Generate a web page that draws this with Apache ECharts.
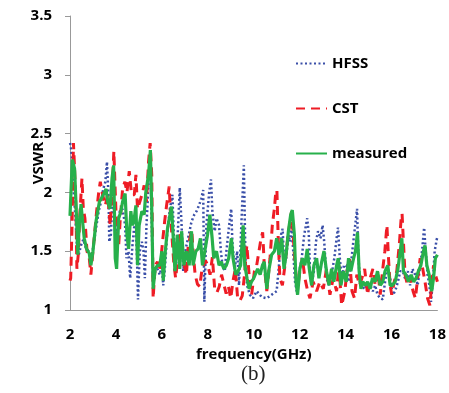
<!DOCTYPE html>
<html>
<head>
<meta charset="utf-8">
<script src="https://cdn.jsdelivr.net/npm/echarts@6/dist/echarts.min.js"></script>
<style>
  html, body { margin: 0; padding: 0; background: #fff; }
  #chart { width: 449px; height: 393px; }
</style>
</head>
<body>
<div id="chart"></div>
<script>
// values (frequency in GHz, VSWR)
const hfssFreq = [2.0, 2.03, 2.09, 2.16, 2.23, 2.29, 2.38, 2.48, 2.58, 2.7, 2.81, 2.91, 3.0, 3.13, 3.25, 3.35, 3.45, 3.54, 3.61, 3.68, 3.71, 3.78, 3.86, 3.93, 4.0, 4.07, 4.17, 4.29, 4.4, 4.46, 4.55, 4.62, 4.72, 4.83, 4.91, 4.96, 5.04, 5.13, 5.2, 5.26, 5.33, 5.42, 5.49, 5.56, 5.62, 5.71, 5.81, 5.91, 6.0, 6.06, 6.13, 6.23, 6.35, 6.46, 6.52, 6.61, 6.71, 6.78, 6.86, 6.93, 7.04, 7.14, 7.29, 7.41, 7.51, 7.62, 7.72, 7.8, 7.85, 7.94, 8.06, 8.14, 8.2, 8.3, 8.38, 8.49, 8.57, 8.64, 8.74, 8.81, 8.93, 9.02, 9.07, 9.17, 9.28, 9.36, 9.46, 9.57, 9.64, 9.71, 9.83, 9.97, 10.13, 10.35, 10.57, 10.78, 11.0, 11.1, 11.19, 11.26, 11.33, 11.41, 11.51, 11.58, 11.65, 11.72, 11.8, 11.9, 11.99, 12.09, 12.2, 12.33, 12.4, 12.45, 12.52, 12.62, 12.71, 12.8, 12.91, 13.0, 13.07, 13.17, 13.28, 13.39, 13.51, 13.61, 13.67, 13.75, 13.83, 13.93, 14.03, 14.13, 14.23, 14.32, 14.42, 14.5, 14.55, 14.62, 14.75, 14.86, 14.96, 15.07, 15.19, 15.29, 15.39, 15.51, 15.62, 15.72, 15.83, 15.94, 16.06, 16.16, 16.28, 16.38, 16.49, 16.59, 16.71, 16.81, 16.91, 17.03, 17.14, 17.25, 17.33, 17.42, 17.49, 17.57, 17.65, 17.72, 17.8, 17.88, 17.97, 18.0]
const hfssVswr = [2.42, 2.4, 2.29, 2.0, 1.81, 1.58, 1.47, 1.55, 1.6, 1.52, 1.5, 1.44, 1.52, 1.69, 1.84, 1.92, 2.03, 2.09, 2.26, 1.95, 1.58, 1.64, 2.0, 1.78, 1.64, 1.72, 1.84, 1.86, 1.72, 1.44, 1.5, 1.27, 1.55, 1.78, 1.5, 1.09, 1.5, 1.58, 1.5, 1.27, 1.72, 2.06, 2.29, 1.72, 1.21, 1.33, 1.35, 1.3, 1.38, 1.21, 1.35, 1.64, 1.86, 1.98, 1.64, 1.33, 1.72, 2.04, 1.72, 1.33, 1.52, 1.61, 1.75, 1.81, 1.84, 1.89, 1.95, 2.02, 1.07, 1.72, 2.0, 2.11, 1.84, 1.67, 1.78, 1.72, 1.5, 1.38, 1.33, 1.5, 1.72, 1.86, 1.58, 1.35, 1.5, 1.21, 1.72, 2.23, 1.44, 1.21, 1.13, 1.1, 1.16, 1.11, 1.1, 1.13, 1.16, 1.38, 1.64, 1.69, 1.38, 1.44, 1.64, 1.58, 1.72, 1.5, 1.24, 1.13, 1.33, 1.44, 1.64, 1.78, 1.64, 1.33, 1.21, 1.33, 1.58, 1.67, 1.61, 1.72, 1.58, 1.27, 1.21, 1.3, 1.44, 1.61, 1.7, 1.44, 1.27, 1.38, 1.38, 1.24, 1.38, 1.55, 1.72, 1.86, 1.5, 1.24, 1.18, 1.21, 1.16, 1.21, 1.16, 1.21, 1.13, 1.1, 1.09, 1.24, 1.38, 1.27, 1.13, 1.16, 1.24, 1.33, 1.33, 1.27, 1.33, 1.21, 1.35, 1.3, 1.21, 1.38, 1.5, 1.7, 1.5, 1.3, 1.21, 1.07, 1.24, 1.5, 1.6, 1.62]

const cstFreq = [2.0, 2.03, 2.09, 2.15, 2.2, 2.26, 2.3, 2.36, 2.43, 2.52, 2.58, 2.65, 2.74, 2.84, 2.91, 3.0, 3.16, 3.25, 3.32, 3.42, 3.54, 3.64, 3.75, 3.86, 3.91, 3.97, 4.04, 4.12, 4.19, 4.29, 4.39, 4.48, 4.58, 4.68, 4.8, 4.87, 4.94, 5.04, 5.16, 5.23, 5.33, 5.42, 5.49, 5.56, 5.62, 5.71, 5.81, 5.91, 6.03, 6.12, 6.2, 6.32, 6.38, 6.45, 6.52, 6.6, 6.7, 6.81, 6.9, 6.98, 7.07, 7.15, 7.3, 7.38, 7.45, 7.55, 7.65, 7.75, 7.9, 8.0, 8.1, 8.2, 8.3, 8.4, 8.5, 8.6, 8.7, 8.8, 8.9, 9.0, 9.1, 9.2, 9.3, 9.4, 9.5, 9.6, 9.7, 9.8, 9.91, 10.03, 10.13, 10.23, 10.32, 10.39, 10.46, 10.57, 10.71, 10.81, 10.9, 10.96, 11.01, 11.07, 11.14, 11.25, 11.36, 11.48, 11.58, 11.65, 11.72, 11.8, 11.91, 12.01, 12.12, 12.23, 12.35, 12.45, 12.59, 12.74, 12.88, 13.03, 13.17, 13.32, 13.46, 13.61, 13.71, 13.83, 13.97, 14.06, 14.17, 14.28, 14.39, 14.49, 14.61, 14.71, 14.83, 14.96, 15.07, 15.19, 15.29, 15.41, 15.51, 15.62, 15.71, 15.8, 15.87, 15.94, 16.01, 16.12, 16.23, 16.35, 16.42, 16.46, 16.52, 16.59, 16.7, 16.81, 16.94, 17.04, 17.14, 17.25, 17.36, 17.46, 17.57, 17.67, 17.75, 17.83, 17.91, 18.0]
const cstVswr = [1.25, 1.27, 1.72, 2.42, 2.2, 1.86, 1.35, 1.47, 1.81, 2.12, 1.86, 1.78, 1.5, 1.44, 1.3, 1.5, 1.84, 2.0, 2.09, 1.98, 1.89, 1.98, 1.72, 2.12, 2.35, 2.0, 1.64, 1.55, 1.78, 2.03, 2.09, 2.0, 2.18, 1.98, 1.98, 2.15, 1.86, 1.92, 2.0, 2.06, 1.92, 2.26, 2.42, 2.15, 1.1, 1.38, 1.41, 1.33, 1.58, 1.75, 1.88, 2.05, 1.8, 1.6, 1.4, 1.27, 1.45, 1.67, 1.5, 1.38, 1.3, 1.55, 1.68, 1.45, 1.3, 1.22, 1.2, 1.35, 1.42, 1.38, 1.3, 1.45, 1.18, 1.15, 1.2, 1.3, 1.22, 1.14, 1.2, 1.1, 1.25, 1.35, 1.1, 1.08, 1.12, 1.3, 1.55, 1.3, 1.13, 1.33, 1.38, 1.5, 1.61, 1.66, 1.38, 1.16, 1.44, 1.72, 1.86, 2.0, 2.02, 1.58, 1.27, 1.21, 1.38, 1.61, 1.75, 1.84, 1.64, 1.38, 1.18, 1.33, 1.44, 1.27, 1.16, 1.1, 1.24, 1.16, 1.24, 1.18, 1.35, 1.13, 1.27, 1.16, 1.38, 1.04, 1.16, 1.33, 1.44, 1.16, 1.1, 1.3, 1.21, 1.27, 1.35, 1.13, 1.27, 1.35, 1.21, 1.33, 1.13, 1.35, 1.5, 1.72, 1.44, 1.21, 1.13, 1.24, 1.33, 1.58, 1.78, 1.82, 1.58, 1.3, 1.21, 1.27, 1.16, 1.1, 1.27, 1.44, 1.35, 1.24, 1.1, 1.04, 1.21, 1.38, 1.3, 1.24]

const measFreq = [2.0, 2.1, 2.2, 2.27, 2.34, 2.4, 2.48, 2.55, 2.62, 2.72, 2.84, 2.91, 3.0, 3.13, 3.28, 3.4, 3.5, 3.57, 3.64, 3.74, 3.83, 3.9, 3.97, 4.03, 4.12, 4.22, 4.29, 4.4, 4.48, 4.55, 4.65, 4.72, 4.8, 4.87, 4.94, 5.01, 5.13, 5.23, 5.3, 5.42, 5.5, 5.56, 5.62, 5.71, 5.81, 5.91, 6.0, 6.06, 6.15, 6.25, 6.42, 6.5, 6.57, 6.67, 6.78, 6.86, 6.96, 7.07, 7.19, 7.29, 7.36, 7.48, 7.58, 7.68, 7.77, 7.87, 7.99, 8.09, 8.19, 8.26, 8.38, 8.49, 8.59, 8.7, 8.81, 8.91, 9.03, 9.1, 9.22, 9.32, 9.43, 9.54, 9.61, 9.71, 9.8, 9.9, 10.0, 10.06, 10.17, 10.28, 10.38, 10.46, 10.57, 10.67, 10.78, 10.9, 11.0, 11.1, 11.22, 11.32, 11.41, 11.51, 11.61, 11.68, 11.77, 11.84, 11.91, 12.01, 12.12, 12.23, 12.33, 12.42, 12.52, 12.62, 12.74, 12.84, 12.96, 13.06, 13.17, 13.28, 13.39, 13.49, 13.61, 13.68, 13.8, 13.9, 14.03, 14.13, 14.23, 14.35, 14.43, 14.52, 14.59, 14.67, 14.75, 14.86, 14.96, 15.07, 15.17, 15.29, 15.39, 15.51, 15.62, 15.72, 15.84, 15.94, 16.04, 16.16, 16.28, 16.38, 16.45, 16.52, 16.62, 16.74, 16.86, 16.96, 17.07, 17.17, 17.28, 17.39, 17.46, 17.54, 17.64, 17.75, 17.83, 17.91, 18.0]
const measVswr = [1.8, 2.28, 2.2, 1.86, 1.47, 1.72, 1.9, 1.75, 1.61, 1.52, 1.48, 1.38, 1.5, 1.75, 1.92, 1.96, 2.0, 2.03, 1.92, 1.86, 2.12, 2.23, 1.44, 1.35, 1.78, 1.84, 1.92, 1.99, 1.64, 1.52, 1.84, 1.72, 1.78, 1.89, 1.38, 1.72, 1.84, 1.81, 2.0, 2.15, 2.36, 1.86, 1.18, 1.35, 1.38, 1.38, 1.5, 1.25, 1.5, 1.7, 1.88, 1.6, 1.33, 1.64, 1.35, 1.67, 1.38, 1.5, 1.38, 1.67, 1.38, 1.5, 1.52, 1.61, 1.38, 1.5, 1.64, 1.81, 1.61, 1.44, 1.5, 1.38, 1.41, 1.35, 1.38, 1.44, 1.61, 1.44, 1.3, 1.33, 1.38, 1.72, 1.38, 1.27, 1.18, 1.24, 1.27, 1.27, 1.35, 1.3, 1.38, 1.41, 1.18, 1.35, 1.47, 1.5, 1.61, 1.47, 1.61, 1.35, 1.47, 1.67, 1.81, 1.85, 1.64, 1.24, 1.13, 1.35, 1.44, 1.38, 1.52, 1.35, 1.21, 1.38, 1.44, 1.27, 1.41, 1.5, 1.33, 1.21, 1.35, 1.24, 1.38, 1.44, 1.21, 1.33, 1.24, 1.44, 1.33, 1.44, 1.5, 1.66, 1.33, 1.18, 1.24, 1.21, 1.24, 1.18, 1.27, 1.24, 1.33, 1.21, 1.24, 1.33, 1.38, 1.21, 1.21, 1.24, 1.35, 1.5, 1.61, 1.33, 1.3, 1.24, 1.3, 1.24, 1.27, 1.33, 1.38, 1.5, 1.55, 1.38, 1.3, 1.16, 1.27, 1.44, 1.47]

const labelFont = '"Open Sans", Lato, sans-serif'

function zip(xs, ys) {
  return xs.map((x, i) => [x, ys[i]])
}

const chart = echarts.init(document.getElementById('chart'), null, { renderer: 'canvas' })

const boldText = { fontFamily: labelFont, fontWeight: 'bold', fontSize: 15, color: '#000' }

chart.setOption({
  animation: false,
  backgroundColor: '#fff',
  grid: { left: 70, right: 11, top: 16, bottom: 83 },
  legend: {
    orient: 'vertical',
    left: 290,
    top: 51,
    itemWidth: 31,
    itemHeight: 14,
    itemGap: 30,
    itemStyle: { opacity: 0 },
    textStyle: boldText,
    data: ['HFSS', 'CST', 'measured']
  },
  xAxis: {
    type: 'value',
    min: 2,
    max: 18,
    interval: 2,
    name: 'frequency(GHz)',
    nameLocation: 'middle',
    nameGap: 36,
    nameTextStyle: boldText,
    axisLine: { lineStyle: { color: '#999', width: 1 } },
    axisTick: { show: false },
    axisLabel: Object.assign({ margin: 17 }, boldText),
    splitLine: { show: false }
  },
  yAxis: {
    type: 'value',
    min: 1,
    max: 3.5,
    interval: 0.5,
    name: 'VSWR',
    nameLocation: 'middle',
    nameRotate: 90,
    nameGap: 24,
    nameMoveOverlap: false,
    nameTextStyle: boldText,
    axisLine: { show: true, lineStyle: { color: '#999', width: 1 } },
    axisTick: { show: true, length: 5, lineStyle: { color: '#999' } },
    axisLabel: Object.assign({ margin: 18 }, boldText),
    splitLine: { show: false }
  },
  series: [
    {
      name: 'HFSS',
      type: 'line',
      data: zip(hfssFreq, hfssVswr),
      symbol: 'none',
      lineStyle: { color: '#3a4fa8', width: 2.5, type: [2, 2.5] },
      itemStyle: { color: '#3a4fa8' }
    },
    {
      name: 'CST',
      type: 'line',
      data: zip(cstFreq, cstVswr),
      symbol: 'none',
      lineStyle: { color: '#ee1c25', width: 3, type: [9, 6] },
      itemStyle: { color: '#ee1c25' }
    },
    {
      name: 'measured',
      type: 'line',
      data: zip(measFreq, measVswr),
      symbol: 'none',
      lineStyle: { color: '#27b04b', width: 3.2 },
      itemStyle: { color: '#27b04b' }
    }
  ],
  graphic: [
    {
      type: 'text',
      left: 241,
      top: 364,
      style: { text: '(b)', font: '21px "Liberation Serif", "DejaVu Serif", serif', fill: '#222' }
    }
  ]
})
</script>
</body>
</html>
